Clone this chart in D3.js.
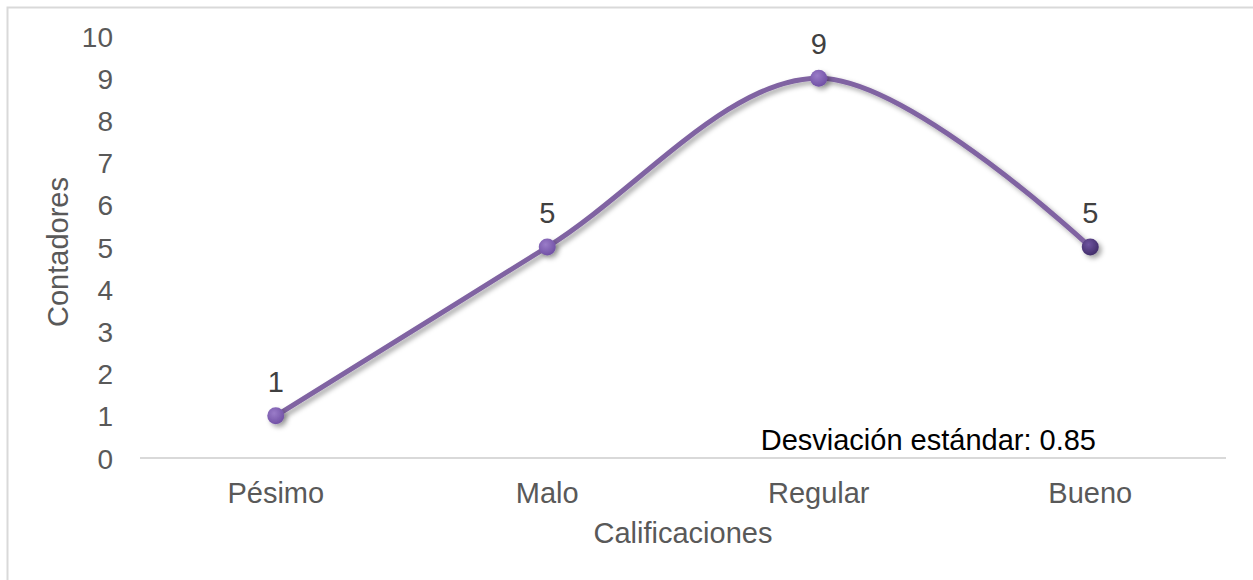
<!DOCTYPE html>
<html><head><meta charset="utf-8">
<script src="https://cdn.jsdelivr.net/npm/d3@7"></script>
<style>body{margin:0;background:#fff}svg{display:block}text{font-family:"Liberation Sans",Arial,sans-serif}</style>
</head><body>
<svg id="c" width="1253" height="580"></svg>
<script>
const categories = ["Pésimo","Malo","Regular","Bueno"];
const values = [1,5,9,5];
const yTicks = [0,1,2,3,4,5,6,7,8,9,10];
const xTitle = "Calificaciones";
const yTitle = "Contadores";
const note = "Desviación estándar: 0.85";

(function(){
const FS = 29;
const svg = d3.select("#c");
const defs = svg.append("defs");
const f = defs.append("filter").attr("id","sh").attr("x","-50%").attr("y","-50%").attr("width","200%").attr("height","200%");
f.append("feDropShadow").attr("dx",3).attr("dy",3).attr("stdDeviation",2.5).attr("flood-color","#000").attr("flood-opacity",0.35);
const g1 = defs.append("radialGradient").attr("id","mk").attr("cx","40%").attr("cy","35%").attr("r","70%");
g1.append("stop").attr("offset","0%").attr("stop-color","#9a7cc8");
g1.append("stop").attr("offset","100%").attr("stop-color","#6e4ea3");
const g2 = defs.append("radialGradient").attr("id","mk2").attr("cx","40%").attr("cy","35%").attr("r","70%");
g2.append("stop").attr("offset","0%").attr("stop-color","#6f55a0");
g2.append("stop").attr("offset","100%").attr("stop-color","#3e2a66");

svg.append("rect").attr("x",7.5).attr("y",7.5).attr("width",1300).attr("height",700)
  .attr("fill","none").attr("stroke","#d9d9d9").attr("stroke-width",2);

const mLeft=140, mRight=1226, mTop=36, mBottom=458;
const x = d3.scaleBand().domain(categories).range([mLeft,mRight]);
const y = d3.scaleLinear().domain([0,10]).range([mBottom,mTop]);
const cx = d => x(d)+x.bandwidth()/2;

svg.append("line").attr("x1",mLeft).attr("x2",mRight).attr("y1",y(0)).attr("y2",y(0))
  .attr("stroke","#d9d9d9").attr("stroke-width",2);

const yAxis = svg.append("g").attr("transform",`translate(${mLeft},0)`)
  .call(d3.axisLeft(y).tickValues(yTicks).tickSize(0).tickPadding(27));
yAxis.select(".domain").remove();
yAxis.selectAll("text").attr("font-size",FS-1).attr("fill","#595959").attr("dy","0.36em")
  .attr("font-family","Liberation Sans, Arial, sans-serif");

const xAxis = svg.append("g").attr("transform",`translate(0,${mBottom})`)
  .call(d3.axisBottom(x).tickSize(0).tickPadding(0));
xAxis.select(".domain").remove();
xAxis.selectAll("text").attr("font-size",FS).attr("fill","#595959").attr("y",45).attr("dy",0)
  .attr("font-family","Liberation Sans, Arial, sans-serif");

svg.append("text").attr("x",(mLeft+mRight)/2).attr("y",543).attr("text-anchor","middle")
  .attr("font-size",FS).attr("fill","#595959").text(xTitle);
svg.append("text").attr("transform","translate(68,252) rotate(-90)").attr("text-anchor","middle")
  .attr("font-size",FS).attr("fill","#595959").text(yTitle);

const pts = categories.map((c,i)=>[cx(c), y(values[i])]);
const line = d3.line().curve(d3.curveCardinal.tension(0));
svg.append("path").attr("d",line(pts)).attr("fill","none").attr("stroke","#8064a2")
  .attr("stroke-width",5).attr("filter","url(#sh)");

svg.selectAll("circle.m").data(categories).join("circle").attr("class","m")
  .attr("cx",d=>cx(d)).attr("cy",(d,i)=>y(values[i])).attr("r",8.5)
  .attr("fill",(d,i)=> i===categories.length-1 ? "url(#mk2)" : "url(#mk)").attr("filter","url(#sh)");

svg.selectAll("text.lbl").data(categories).join("text").attr("class","lbl")
  .attr("x",d=>cx(d)).attr("y",(d,i)=>y(values[i])-24).attr("text-anchor","middle")
  .attr("font-size",FS).attr("fill","#404040").text((d,i)=>values[i]);

svg.append("text").attr("x",1096).attr("y",450).attr("text-anchor","end")
  .attr("font-size",FS).attr("fill","#000").text(note);
})();
</script>
</body></html>
